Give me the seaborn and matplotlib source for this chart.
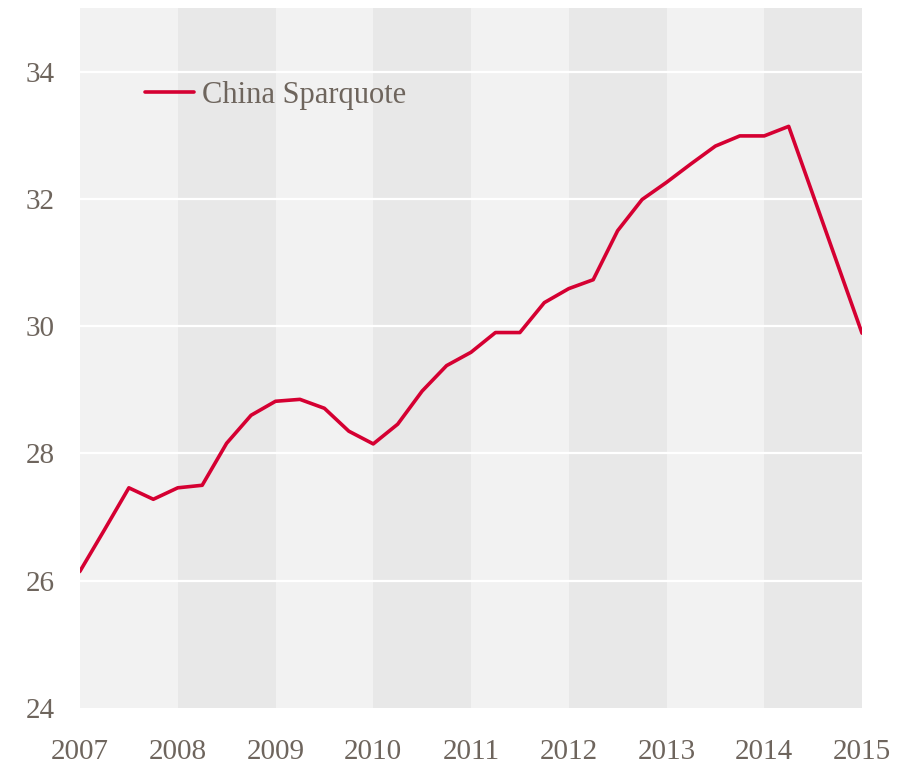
import matplotlib
matplotlib.use("Agg")
import matplotlib.pyplot as plt
import seaborn as sns
import pandas as pd

# quarterly savings rate, decimal years
quarters = [2006.75, 2007.0, 2007.25, 2007.5, 2007.75, 2008.0, 2008.25, 2008.5, 2008.75,
            2009.0, 2009.25, 2009.5, 2009.75, 2010.0, 2010.25, 2010.5, 2010.75,
            2011.0, 2011.25, 2011.5, 2011.75, 2012.0, 2012.25, 2012.5, 2012.75,
            2013.0, 2013.25, 2013.5, 2013.75, 2014.0, 2014.25, 2015.0]
sparquote = [25.85, 26.15, 26.80, 27.46, 27.28, 27.46, 27.50, 28.16, 28.60,
             28.82, 28.85, 28.71, 28.35, 28.15, 28.46, 28.98, 29.38,
             29.59, 29.90, 29.90, 30.37, 30.59, 30.73, 31.50, 31.99,
             32.26, 32.55, 32.83, 32.99, 32.99, 33.14, 29.89]
years = list(range(2007, 2016))
y_ticks = [24, 26, 28, 30, 32, 34]

RED = "#d50032"
TXT = "#6e655d"
BAND_LIGHT = "#f2f2f2"
BAND_DARK = "#e8e8e8"

sns.set_style("white")
plt.rcParams["font.family"] = ["Liberation Serif", "DejaVu Serif"]

df = pd.DataFrame({"year": quarters, "value": sparquote})

fig = plt.figure(figsize=(9.11, 7.65), dpi=100)
ax = fig.add_axes([80 / 911, 1 - 708 / 765, 782 / 911, 700 / 765])

# alternating year bands
for i, y0 in enumerate(years[:-1]):
    ax.axvspan(y0, y0 + 1, color=BAND_LIGHT if i % 2 == 0 else BAND_DARK, lw=0, zorder=0)

for t in y_ticks[1:]:
    ax.axhline(t, color="white", lw=1.6, zorder=1)

sns.lineplot(data=df, x="year", y="value", ax=ax, color=RED, lw=2.6,
             label="China Sparquote", zorder=3)

ax.set_xlim(years[0], years[-1])
ax.set_ylim(24, 35)
ax.set_xticks(years)
ax.set_yticks(y_ticks)
ax.set_xticklabels([str(y) for y in years])
ax.set_xlabel("")
ax.set_ylabel("")
ax.tick_params(axis="both", length=0, labelsize=21, colors=TXT)
ax.tick_params(axis="x", pad=22)
ax.tick_params(axis="y", pad=18)
for s in ax.spines.values():
    s.set_visible(False)

leg = ax.legend(loc="center left", bbox_to_anchor=(0.048, 0.875), frameon=False,
                fontsize=22, handlelength=1.6, handletextpad=0.25, labelcolor=TXT)

fig.savefig("out.png", dpi=100)
